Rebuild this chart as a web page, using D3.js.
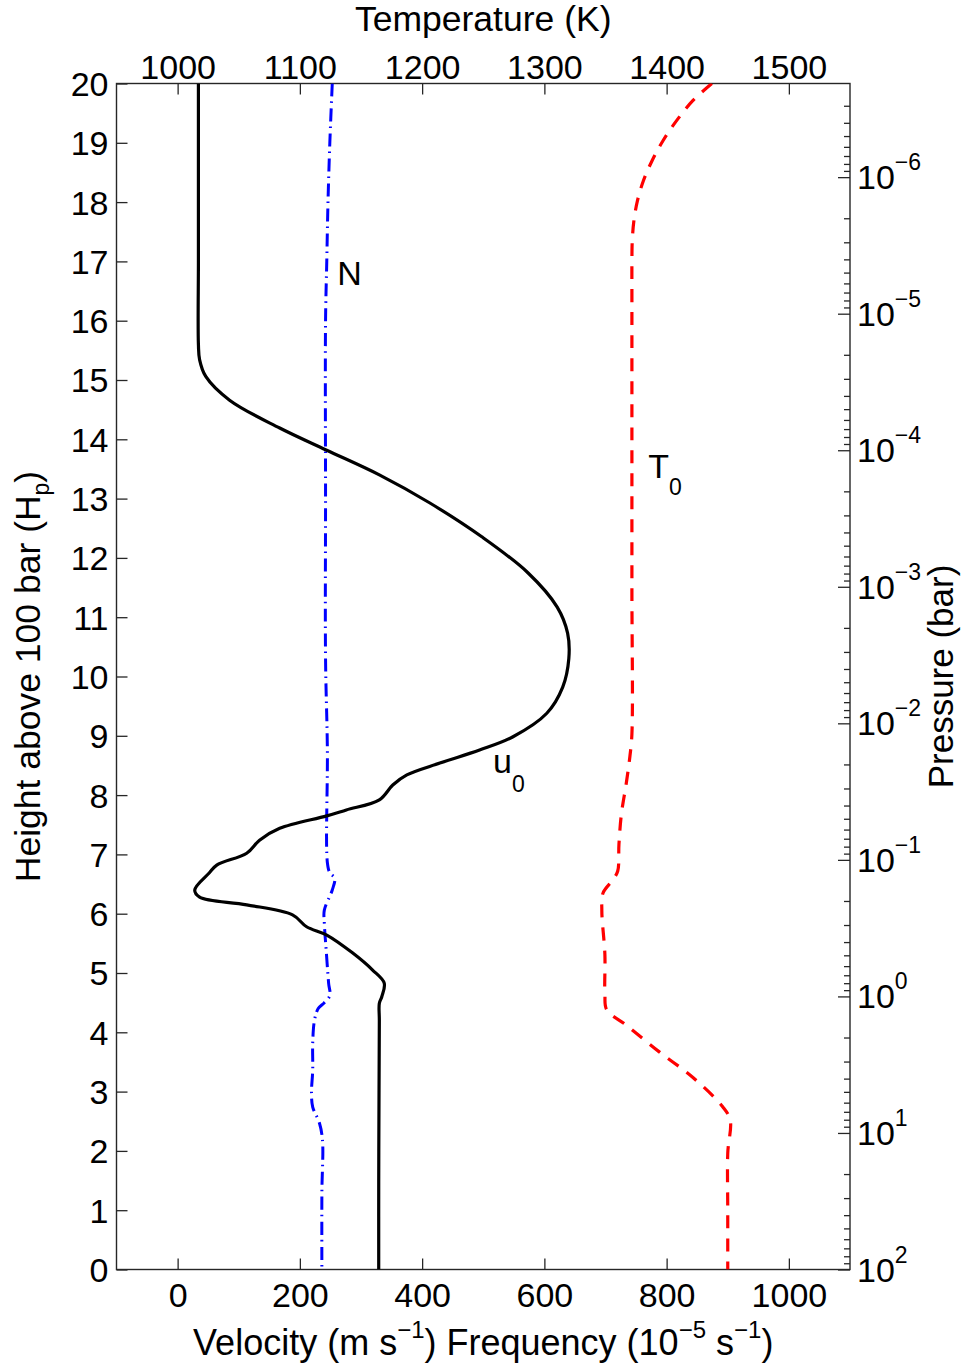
<!DOCTYPE html>
<html><head><meta charset="utf-8">
<script src="https://cdn.jsdelivr.net/npm/d3@7"></script>
<style>
body{margin:0;background:#fff;}
svg text{font-family:"Liberation Sans", Arial, sans-serif; fill:#000;}
</style></head>
<body><svg id="chart" width="971" height="1367"></svg>
<script>
// ---- tick labels / categories ----
const heightTicks = d3.range(0, 21);
const velocityTicks = [0, 200, 400, 600, 800, 1000];
const temperatureTicks = [1000, 1100, 1200, 1300, 1400, 1500];
const pressureExponents = [2, 1, 0, -1, -2, -3, -4, -5, -6];

// ---- series: u0 (velocity, m/s) vs height (H_p) ----
const u0Height   = [20, 18.5, 17, 15.6, 15.34, 15.06, 14.66, 14.19, 13.82, 13.40, 12.93, 12.36, 11.75, 11.17, 10.73, 10.30, 9.82, 9.38, 8.98, 8.76, 8.54, 8.34, 8.17, 7.92, 7.75, 7.65, 7.44, 7.24, 7.02, 6.82, 6.69, 6.40, 6.28, 6.15, 5.98, 5.78, 5.64, 5.34, 5.05, 4.83, 4.60, 4.49, 4.2, 3, 1.5, 0];
const u0Velocity = [34, 34, 34, 34, 36, 46, 85, 167, 243, 330, 412, 497, 573, 621, 638, 640, 630, 604, 548, 494, 429, 375, 352, 330, 276, 244, 167, 134, 113, 64, 52, 28, 36, 113, 188, 211, 244, 286, 319, 338, 334, 330, 330, 329.5, 329, 329];

// ---- series: N (frequency, 1e-5 s^-1) vs height ----
const nHeight    = [20, 19, 18, 17, 16, 13, 10.3, 8.76, 6.86, 6.69, 6.60, 6.40, 6.06, 5.84, 5.39, 4.83, 4.62, 4.50, 4.40, 4.21, 3.82, 3.36, 2.98, 2.74, 2.47, 2.18, 1.29, 0];
const nFrequency = [253, 249, 246, 244, 242, 242, 242, 245, 245, 249, 257, 253, 240, 240, 243, 247, 249, 240, 230, 224, 221, 221, 219, 221, 232, 237, 236, 236];

// ---- series: T0 (temperature, K) vs height ----
const t0Height      = [20, 19.71, 19.37, 19.03, 18.69, 18.36, 18.02, 17.68, 17.35, 17.01, 16.5, 14, 11.5, 9.03, 8.66, 8.20, 7.68, 7.17, 6.72, 6.57, 6.35, 6.05, 5.31, 4.64, 4.38, 4.12, 3.67, 3.23, 2.74, 2.52, 1.96, 1, 0];
const t0Temperature = [1437, 1421.4, 1408, 1396.9, 1387.9, 1381, 1376.1, 1373.2, 1371.9, 1371.6, 1371.6, 1371.6, 1371.6, 1371.6, 1370, 1367, 1363, 1361, 1360, 1356, 1348, 1347, 1349.5, 1349.5, 1351, 1367, 1394, 1422, 1446, 1452, 1450, 1450, 1450];

const svg = d3.select("#chart");
const L = 116.5, T = 83.5, R = 850, B = 1269.5;
const AX = "#262626";

const x  = d3.scaleLinear().domain([-100, 1100]).range([L, R]);
const xT = d3.scaleLinear().domain([950, 1550]).range([L, R]);
const y  = d3.scaleLinear().domain([0, 20]).range([B, T]);
const yP = d3.scaleLog().domain([100, 100 * Math.exp(-20)]).range([B, T]);

svg.append("defs").append("clipPath").attr("id", "clip")
  .append("rect").attr("x", L).attr("y", T).attr("width", R - L).attr("height", B - T);

function styleAxis(g) {
  g.select(".domain").remove();
  g.selectAll(".tick line").attr("stroke", AX).attr("stroke-width", 1.3);
  g.selectAll(".tick text").attr("font-size", 34).attr("font-family", "Liberation Sans, Arial, sans-serif").attr("fill", "#000");
  g.attr("font-family", null).attr("font-size", null);
}

// left axis
svg.append("g").attr("transform", `translate(${L},0)`)
  .call(d3.axisLeft(y).tickValues(heightTicks).tickSize(-11).tickPadding(8).tickFormat(d3.format("d")))
  .call(styleAxis)
  .selectAll(".tick text").attr("dy", "0.35em");

// bottom axis
svg.append("g").attr("transform", `translate(0,${B})`)
  .call(d3.axisBottom(x).tickValues(velocityTicks).tickSize(-11).tickPadding(12).tickFormat(d3.format("d")))
  .call(styleAxis)
  .selectAll(".tick text").attr("dy", null).attr("y", 37);

// top axis
svg.append("g").attr("transform", `translate(0,${T})`)
  .call(d3.axisTop(xT).tickValues(temperatureTicks).tickSize(-11).tickPadding(5).tickFormat(d3.format("d")))
  .call(styleAxis)
  .selectAll(".tick text").attr("dy", null).attr("y", -5);

// right axis (log pressure)
const majorP = pressureExponents.map(e => Math.pow(10, e));
const [pMin, pMax] = [100 * Math.exp(-20), 100];
const minorP = [];
for (let e = -7; e <= 1; e++) for (let k = 2; k <= 9; k++) {
  const v = k * Math.pow(10, e);
  if (v >= pMin && v <= pMax) minorP.push(v);
}
svg.append("g").attr("transform", `translate(${R},0)`)
  .call(d3.axisRight(yP).tickValues(majorP).tickSize(-12).tickFormat(() => ""))
  .call(styleAxis);
svg.append("g").attr("transform", `translate(${R},0)`)
  .call(d3.axisRight(yP).tickValues(minorP).tickSize(-6).tickFormat(() => ""))
  .call(styleAxis);

const pLab = svg.append("g").selectAll("text").data(pressureExponents).join("text")
  .attr("x", R + 7).attr("y", e => yP(Math.pow(10, e)) + 12).attr("font-size", 34);
pLab.append("tspan").text("10");
pLab.append("tspan").attr("font-size", 23).attr("dy", -19)
  .text(e => e < 0 ? "\u2212" + Math.abs(e) : String(e));

// frame
svg.append("rect").attr("x", L).attr("y", T).attr("width", R - L).attr("height", B - T)
  .attr("fill", "none").attr("stroke", AX).attr("stroke-width", 1.4);

// lines
const plot = svg.append("g").attr("clip-path", "url(#clip)");
function profile(hs, vs, sx) {
  return d3.line().x((d, i) => sx(vs[i])).y(d => y(d)).curve(d3.curveCatmullRom.alpha(0.5))(hs);
}
plot.append("path").attr("d", profile(t0Height, t0Temperature, xT))
  .attr("fill", "none").attr("stroke", "#ff0000").attr("stroke-width", 3.2).attr("stroke-dasharray", "13,10");
plot.append("path").attr("d", profile(nHeight, nFrequency, x))
  .attr("fill", "none").attr("stroke", "#0000ff").attr("stroke-width", 3).attr("stroke-dasharray", "13,5,1.5,5.5");
plot.append("path").attr("d", profile(u0Height, u0Velocity, x))
  .attr("fill", "none").attr("stroke", "#000").attr("stroke-width", 3.2).attr("stroke-linejoin", "round");

// in-plot labels
svg.append("text").attr("x", x(261)).attr("y", y(16.6)).attr("font-size", 34).text("N");
const uLab = svg.append("text").attr("x", x(516)).attr("y", y(8.37)).attr("font-size", 34);
uLab.append("tspan").text("u");
uLab.append("tspan").attr("font-size", 23).attr("dy", 19).text("0");
const tLab = svg.append("text").attr("x", xT(1385)).attr("y", y(13.35)).attr("font-size", 34);
tLab.append("tspan").text("T");
tLab.append("tspan").attr("font-size", 23).attr("dy", 17).text("0");

// axis titles
svg.append("text").attr("x", (L + R) / 2).attr("y", 31).attr("text-anchor", "middle")
  .attr("font-size", 35.5).text("Temperature (K)");

const bt = svg.append("text").attr("x", (L + R) / 2).attr("y", 1355).attr("text-anchor", "middle").attr("font-size", 36);
bt.append("tspan").text("Velocity (m s");
bt.append("tspan").attr("font-size", 24).attr("dy", -17).text("\u22121");
bt.append("tspan").attr("dy", 17).text(") Frequency (10");
bt.append("tspan").attr("font-size", 24).attr("dy", -17).text("\u22125");
bt.append("tspan").attr("dy", 17).text(" s");
bt.append("tspan").attr("font-size", 24).attr("dy", -17).text("\u22121");
bt.append("tspan").attr("dy", 17).text(")");

const lt = svg.append("text").attr("transform", `translate(40,${(T + B) / 2}) rotate(-90)`)
  .attr("text-anchor", "middle").attr("font-size", 35.5);
lt.append("tspan").text("Height above 100 bar (H");
lt.append("tspan").attr("font-size", 23).attr("dy", 9).text("p");
lt.append("tspan").attr("dy", -9).text(")");

svg.append("text").attr("transform", `translate(953,${(T + B) / 2}) rotate(-90)`)
  .attr("text-anchor", "middle").attr("font-size", 35).text("Pressure (bar)");
</script>
</body></html>
